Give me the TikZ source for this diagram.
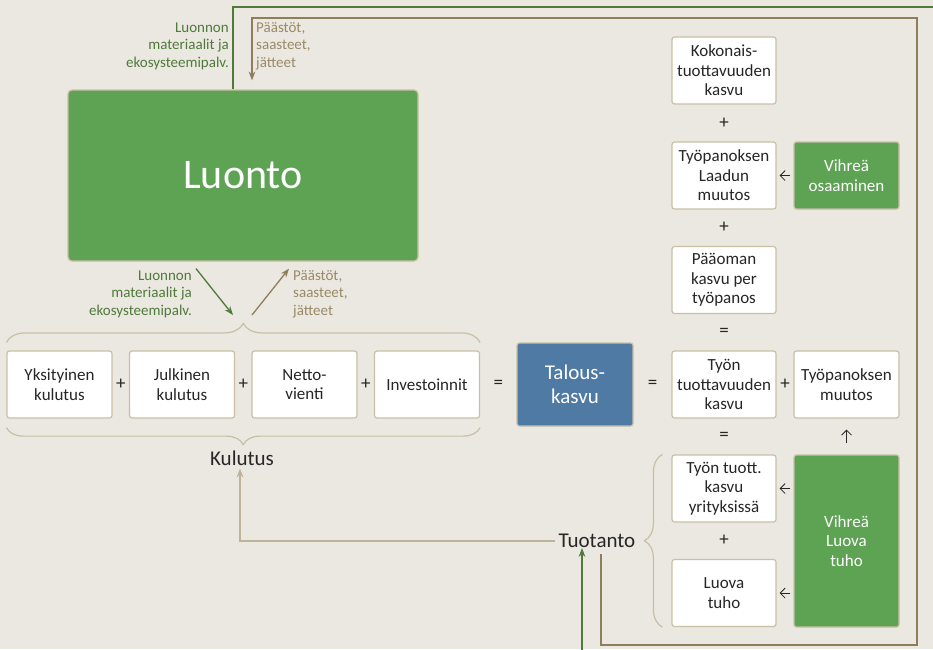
\documentclass[tikz,border=0pt]{standalone}
\usepackage{fontspec}
\setmainfont{Carlito}
\usepackage{xcolor}
\usetikzlibrary{arrows.meta,decorations.pathreplacing,positioning}

\definecolor{bgbeige}{HTML}{EBE8E1}
\definecolor{boxline}{HTML}{C9BFA5}
\definecolor{natgreen}{HTML}{5DA353}
\definecolor{flowgreen}{HTML}{4F7A3A}
\definecolor{flowbrown}{HTML}{8E7E5C}
\definecolor{txtbrown}{HTML}{9A8A66}
\definecolor{flowtan}{HTML}{BFB397}
\definecolor{ecoblue}{HTML}{4E7AA3}
\definecolor{ink}{HTML}{262626}

\newcommand{\boxfs}{\fontsize{17}{19.5}\selectfont}
\newcommand{\opfs}{\fontsize{19}{20}\selectfont}
\newcommand{\sidefs}{\fontsize{15}{17.5}\selectfont}
\newcommand{\midfs}{\fontsize{21}{24}\selectfont}
\newcommand{\hugefs}{\fontsize{42}{48}\selectfont}

\tikzset{
  box/.style={draw=boxline, line width=1.2pt, fill=white, rounded corners=2.5pt,
    minimum width=104pt, minimum height=67pt, inner sep=0pt, align=center,
    font=\boxfs, text=ink},
  greenbox/.style={box, fill=natgreen, text=white},
  op/.style={font=\opfs, text=ink, inner sep=0pt},
  bracket/.style={draw=boxline, line width=1.2pt, decorate},
  greenflow/.style={draw=flowgreen, line width=1.3pt},
  brownflow/.style={draw=flowbrown, line width=1.3pt},
  tanflow/.style={draw=flowtan, line width=1.3pt},
  smallarrow/.style={draw=ink, line width=0.8pt, -{Straight Barb[length=5pt,width=10pt]}},
  greentxt/.style={font=\sidefs, text=flowgreen, align=right, inner sep=0pt},
  browntxt/.style={font=\sidefs, text=txtbrown, align=left, inner sep=0pt}
}

\begin{document}
\begin{tikzpicture}[x=1pt, y=-1pt, >=Stealth]
	% background and page size
	\fill[bgbeige] (0,0) rectangle (933,649);
	\useasboundingbox (0,0) rectangle (933,649);
	% Nature
	\node[greenbox, minimum width=350pt, minimum height=171pt, font=\hugefs, rounded corners=4pt] (luonto) at (243,175.5) {Luonto};
	% Demand side
	\node[box, minimum width=105pt] (yks) at (59.5,384.5) {Yksityinen\\kulutus};
	\node[box, minimum width=105pt] (julk) at (182,384.5) {Julkinen\\kulutus};
	\node[box, minimum width=105pt] (netto) at (304.5,384.5) {Netto-\\vienti};
	\node[box, minimum width=105pt] (inv) at (427,384.5) {Investoinnit};
	\node[box, fill=ecoblue, text=white, minimum width=116pt, minimum height=83pt, font=\midfs] (talous) at (575,384.5) {Talous-\\kasvu};
	% Supply side
	\node[box] (koko) at (724,70.5) {Kokonais-\\tuottavuuden\\kasvu};
	\node[box] (laatu) at (724,175.5) {Työpanoksen\\Laadun\\muutos};
	\node[box] (paaoma) at (724,280) {Pääoman\\kasvu per\\työpanos};
	\node[box] (tyontuott) at (724,384.5) {Työn\\tuottavuuden\\kasvu};
	\node[box] (yritys) at (724,488.5) {Työn tuott.\\kasvu\\yrityksissä};
	\node[box] (luova) at (724,593) {Luova\\tuho};
	\node[greenbox, minimum width=105pt] (osaaminen) at (846.5,175.5) {Vihreä\\osaaminen};
	\node[box, minimum width=105pt] (tpmuutos) at (846.5,384.5) {Työpanoksen\\muutos};
	\node[greenbox, minimum width=105pt, minimum height=172pt] (vluova) at (846.5,541) {Vihreä\\Luova\\tuho};
	% Operators
	\path (yks) -- (julk) node[op, midway] {+};
	\path (julk) -- (netto) node[op, midway] {+};
	\path (netto) -- (inv) node[op, midway] {+};
	\path (inv) -- (talous) node[op, midway] {=};
	\path (talous) -- (tyontuott) node[op, midway] {=};
	\path (tyontuott) -- (tpmuutos) node[op, midway] {+};
	\path (koko) -- (laatu) node[op, midway] {+};
	\path (laatu) -- (paaoma) node[op, midway] {+};
	\path (paaoma) -- (tyontuott) node[op, midway] {=};
	\path (tyontuott) -- (yritys) node[op, midway] {=};
	\path (yritys) -- (luova) node[op, midway] {+};
	% Braces and sums
	\draw[bracket, decoration={brace, amplitude=19pt}] ([yshift=8pt]yks.north west) -- ([yshift=8pt]inv.north east);
	\draw[bracket, decoration={brace, amplitude=17pt}] ([yshift=-9pt]inv.south east) -- ([yshift=-9pt]yks.south west);
	\draw[bracket, decoration={brace, amplitude=18pt}] ([xshift=-9pt]luova.south west) -- ([xshift=-9pt]yritys.north west);
	\coordinate (kulutustip) at (243,324);
	\node[font=\midfs, text=ink, inner sep=0pt] (kulutus) at (242,458) {Kulutus};
	\node[font=\midfs, text=ink, inner sep=0pt] (tuotanto) at (597,541) {Tuotanto};
	% Flows between nature and economy
	\coordinate (offright) at (945,7);
	\coordinate (offbottom) at (582,665);
	\coordinate (corner se) at (917,645);
	\coordinate (corner ne) at (917,18);
	\draw[greenflow] ([xshift=-10pt]luonto.north) |- (offright);
	\draw[greenflow, ->] (offbottom) -- (offbottom |- tuotanto.south);
	\draw[brownflow, ->] ([xshift=4pt,yshift=-6pt]tuotanto.south) |- (corner se) -- (corner ne) -| ([xshift=9pt,yshift=9pt]luonto.north);
	\draw[greenflow, ->] ([xshift=-47pt,yshift=-7pt]luonto.south) -- ([xshift=-10pt,yshift=9pt]kulutustip);
	\draw[brownflow, ->] ([xshift=9pt,yshift=9pt]kulutustip) -- ([xshift=46pt,yshift=-7pt]luonto.south);
	\draw[tanflow, ->, shorten >=3pt] ([xshift=-4pt]tuotanto.west) -| ([xshift=-2pt]kulutus.south);
	% Flow labels
	\node[greentxt, anchor=east] (inlabel top) at (229,46) {Luonnon\\materiaalit ja\\ekosysteemipalv.};
	\node[browntxt, anchor=west] (outlabel top) at (256,46) {Päästöt,\\saasteet,\\jätteet};
	\node[greentxt, anchor=east] (inlabel) at (192,294) {Luonnon\\materiaalit ja\\ekosysteemipalv.};
	\node[browntxt, anchor=west] (outlabel) at (293,294) {Päästöt,\\saasteet,\\jätteet};
	% Green drivers
	\draw[smallarrow, shorten <=3pt, shorten >=3pt] (osaaminen) -- (laatu);
	\draw[smallarrow, shorten <=3pt, shorten >=3pt] (vluova.west |- yritys.east) -- (yritys.east);
	\draw[smallarrow, shorten <=3pt, shorten >=3pt] (vluova.west |- luova.east) -- (luova.east);
	\draw[smallarrow, shorten <=11pt, shorten >=11pt] (vluova.north) -- (tpmuutos.south);
\end{tikzpicture}
\end{document}
